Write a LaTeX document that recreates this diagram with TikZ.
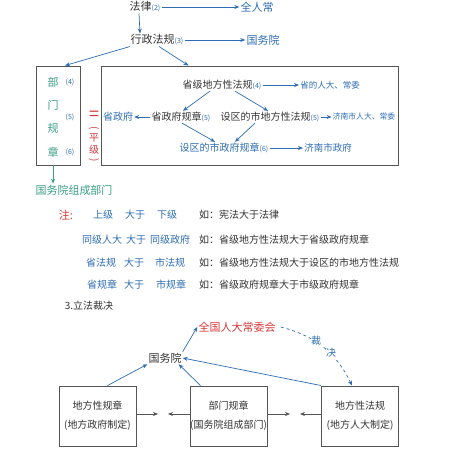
\documentclass[tikz,border=0pt]{standalone}
\usepackage{fontspec}
\usepackage{graphicx}
\setmainfont{Noto Sans CJK SC}
\usetikzlibrary{arrows.meta}
\definecolor{hblue}{HTML}{2E6DB4}
\definecolor{hgreen}{HTML}{3A9E86}
\definecolor{hred}{HTML}{D8393B}
\definecolor{hink}{HTML}{333333}
\definecolor{hline}{HTML}{555555}
\tikzset{
  every node/.style={inner sep=1pt, text=hink},
  tx/.style={font=\fontsize{10}{11}\selectfont},
  txs/.style={font=\fontsize{8.5}{10}\selectfont},
  txb/.style={font=\fontsize{11}{12}\selectfont},
  bl/.style={text=hblue},
  gr/.style={text=hgreen},
  rd/.style={text=hred},
  num/.style={font=\fontsize{7}{8}\selectfont, text=hblue},
  barrow/.style={draw=hblue, line width=0.7pt, -{Stealth[length=5pt,width=4pt]}},
  karrow/.style={draw=hline, line width=0.7pt, -{Stealth[length=5pt,width=4pt]}},
  frame/.style={draw=hline, line width=0.9pt, minimum width=#1, minimum height=99pt, inner sep=0pt},
  lbox/.style={draw=hline, line width=0.9pt, minimum width=77pt, minimum height=60pt, align=center,
               font=\fontsize{10}{19}\selectfont, inner sep=0pt},
}
\newcommand{\nb}[1]{{\fontsize{7}{8}\selectfont\color{hblue}(#1)}}
\begin{document}
\begin{tikzpicture}[x=1pt,y=-1pt]
\useasboundingbox[fill=white] (0,0) rectangle (472,449);

% ---------- top ----------
\node[txb] (law) at (145,7) {法律\nb{2}};
\node[txb,bl] (qrc) at (257,7) {全人常};
\node[txb] (xzfg) at (157,40) {行政法规\nb{3}};
\node[txb,bl] (gwy1) at (263,40) {国务院};
\draw[barrow] (law.east) -- (qrc.west);
\draw[barrow] ([xshift=-6pt]law.south) -- ([xshift=-17pt]xzfg.north);
\draw[barrow] (xzfg.east) -- (gwy1.west);

% ---------- department box ----------
\node[frame=44pt] (dept) at (58,115.5) {};
\node[txb,gr] (c1) at (53,82) {部};
\node[txb,gr] (c2) at (53,105) {门};
\node[txb,gr] (c3) at (53,128) {规};
\node[txb,gr] (c4) at (53,152) {章};
\node[num] (n4) at (70,82) {(4)};
\node[num] (n5) at (70,117) {(5)};
\node[num] (n6) at (70,152) {(6)};

\node[rd,font=\fontsize{18}{18}\selectfont] (eq) at (94,116) {=};
\node[rd,font=\fontsize{10}{10}\selectfont] (p1) at (94,128) {\rotatebox{-90}{(}};
\node[rd,font=\fontsize{10}{10}\selectfont] (p2) at (94,138) {平};
\node[rd,font=\fontsize{10}{10}\selectfont] (p3) at (94,150) {级};
\node[rd,font=\fontsize{10}{10}\selectfont] (p4) at (94,160) {\rotatebox{-90}{)}};

\node[txb,gr] (gwzc) at (74,190) {国务院组成部门};
\draw[barrow,draw=hgreen] ([xshift=-5pt]dept.south) -- ([xshift=-21pt]gwzc.north);

% ---------- big box ----------
\node[frame=297pt] (big) at (249.5,115.5) {};
\draw[barrow] ([xshift=-27pt]xzfg.south) -- ([xshift=7pt]dept.north);
\draw[barrow] ([xshift=2pt]xzfg.south) -- ([xshift=-61pt]big.north);

\node[tx] (sjdf) at (222,85) {省级地方性法规\nb{4}};
\node[txs,bl] (srd) at (330,85) {省的人大、常委};
\node[tx,bl] (szf) at (118,117) {省政府};
\node[tx] (szfgz) at (181,117) {省政府规章\nb{5}};
\node[tx] (sqdf) at (270,117) {设区的市地方性法规\nb{5}};
\node[txs,bl,font=\fontsize{7.8}{9}\selectfont] (jnrd) at (364,117) {济南市人大、常委};
\node[tx,bl] (sqgz) at (224,148) {设区的市政府规章\nb{6}};
\node[tx,bl,font=\fontsize{9.5}{10}\selectfont] (jnzf) at (328,148) {济南市政府};

\draw[barrow] (sjdf.east) -- (srd.west);
\draw[barrow] (szfgz.west) -- (szf.east);
\draw[barrow] (sqdf.east) -- (jnrd.west);
\draw[barrow] (sqgz.east) -- (jnzf.west);
\draw[barrow] ([xshift=-12pt]sjdf.south) -- ([xshift=2pt]szfgz.north);
\draw[barrow] ([xshift=13pt]sjdf.south) -- ([xshift=-2pt]sqdf.north);
\draw[barrow] ([xshift=1pt]szfgz.south) -- ([xshift=-9pt]sqgz.north);
\draw[barrow] ([xshift=-15pt]sqdf.south) -- ([xshift=11pt]sqgz.north);

% ---------- notes ----------
\node[txb,rd] (zhu) at (66,215) {注:};
\node[tx,bl] (a1) at (103,215) {上级};
\node[tx,bl] (b1) at (135,215) {大于};
\node[tx,bl] (d1) at (167,215) {下级};
\node[tx,anchor=west] (e1) at (198,215) {如：宪法大于法律};

\node[tx,bl] (a2) at (102,240) {同级人大};
\node[tx,bl] (b2) at (136,240) {大于};
\node[tx,bl] (d2) at (170,240) {同级政府};
\node[tx,anchor=west] (e2) at (198,240) {如：省级地方性法规大于省级政府规章};

\node[tx,bl] (a3) at (101,263) {省法规};
\node[tx,bl] (b3) at (134,263) {大于};
\node[tx,bl] (d3) at (170,263) {市法规};
\node[tx,anchor=west] (e3) at (198,263) {如：省级地方性法规大于设区的市地方性法规};

\node[tx,bl] (a4) at (102,285) {省规章};
\node[tx,bl] (b4) at (134,285) {大于};
\node[tx,bl] (d4) at (171,285) {市规章};
\node[tx,anchor=west] (e4) at (198,285) {如：省级政府规章大于市级政府规章};

\node[tx] (s3) at (89,306) {3.立法裁决};

% ---------- bottom diagram ----------
\node[txb,rd] (qgrd) at (237,327) {全国人大常委会};
\node[txb] (gwy2) at (165,358) {国务院};
\node[lbox] (bL) at (97.5,416) {地方性规章\\(地方政府制定)};
\node[lbox] (bM) at (228.5,416) {部门规章\\(国务院组成部门)};
\node[lbox] (bR) at (360,416) {地方性法规\\(地方人大制定)};

\draw[barrow] (gwy2.north east) -- (qgrd.west);
\draw[barrow] ([xshift=10pt]bL.north) -- (gwy2.south west);
\draw[barrow] ([xshift=-28pt]bM.north) -- ([xshift=-4pt]gwy2.south east);
\draw[barrow] (bR.north west) -- (gwy2.east);
\draw[barrow, dashed] ([xshift=4pt]qgrd.east) to[bend left=25] ([xshift=-8pt]bR.north);
\node[tx,bl,fill=white,inner sep=0.5pt] (cj1) at (316,341) {裁};
\node[tx,bl,fill=white,inner sep=0.5pt] (cj2) at (331,353) {决};

\coordinate (g1a) at (158,414);
\coordinate (g1b) at (168,414);
\coordinate (g2a) at (290,414);
\coordinate (g2b) at (300,414);
\draw[karrow] ([yshift=2pt]bL.east) -- (g1a);
\draw[karrow] ([yshift=2pt]bM.west) -- (g1b);
\draw[karrow] ([yshift=2pt]bM.east) -- (g2a);
\draw[karrow] ([yshift=2pt]bR.west) -- (g2b);
\end{tikzpicture}
\end{document}
